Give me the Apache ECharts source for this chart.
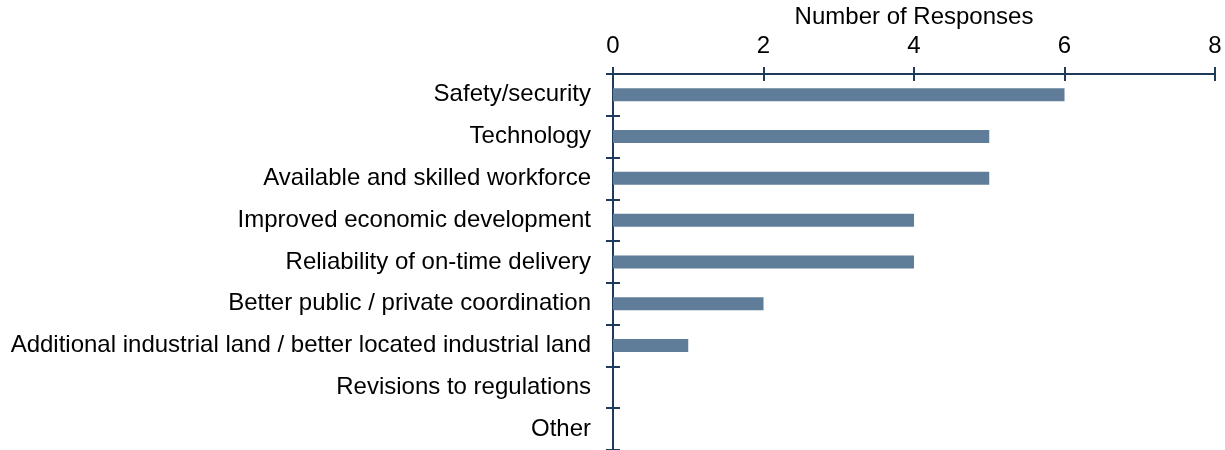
<!DOCTYPE html>
<html><head><meta charset="utf-8">
<script src="https://cdn.jsdelivr.net/npm/echarts@6/dist/echarts.min.js"></script>
<style>html,body{margin:0;padding:0;background:#fff}#c{width:1225px;height:450px}</style>
</head><body><div id="c"></div>
<script>
var categories = ["Safety/security","Technology","Available and skilled workforce","Improved economic development","Reliability of on-time delivery","Better public / private coordination","Additional industrial land / better located industrial land","Revisions to regulations","Other"];
var responses = [6,5,5,4,4,2,1,0,0];
var xTicks = [0,2,4,6,8];

var axisColor = '#1f3a5a';
var font = 'Liberation Sans, Arial, sans-serif';
var chart = echarts.init(document.getElementById('c'));
chart.setOption({
  animation:false,
  grid:{left:613,right:10,top:70,bottom:0,containLabel:false},
  xAxis:[{
    type:'value',position:'top',min:xTicks[0],max:xTicks[xTicks.length-1],interval:2,
    name:'Number of Responses',nameLocation:'middle',nameGap:35,
    nameTextStyle:{fontFamily:font,fontSize:24,color:'#000'},
    axisLine:{show:true,lineStyle:{color:axisColor,width:2}},
    axisTick:{show:true,length:7,inside:false,lineStyle:{color:axisColor,width:2}},
    axisLabel:{fontFamily:font,fontSize:24,color:'#000',margin:16},
    splitLine:{show:false}
  },{
    type:'value',position:'top',min:0,max:8,interval:2,
    axisLine:{show:false},
    axisTick:{show:true,length:7,inside:true,lineStyle:{color:axisColor,width:2}},
    axisLabel:{show:false},splitLine:{show:false}
  }],
  yAxis:[{
    type:'category',data:categories,inverse:true,
    axisLine:{show:true,lineStyle:{color:axisColor,width:2}},
    axisTick:{show:true,length:7,inside:false,lineStyle:{color:axisColor,width:2}},
    axisLabel:{fontFamily:font,fontSize:24,color:'#000',margin:22}
  },{
    type:'category',data:categories,inverse:true,position:'left',
    axisLine:{show:false},
    axisTick:{show:true,length:7,inside:true,lineStyle:{color:axisColor,width:2}},
    axisLabel:{show:false}
  }],
  series:[{
    type:'bar',data:responses,xAxisIndex:0,yAxisIndex:0,barWidth:13,
    itemStyle:{color:'#5f7d99'}
  }]
});
</script></body></html>
